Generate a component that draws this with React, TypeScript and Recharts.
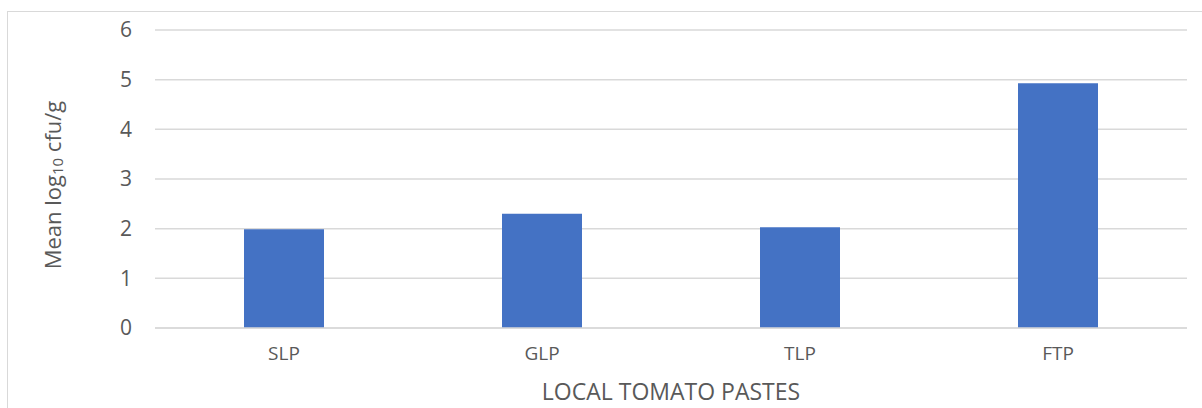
import React from 'react';
import { BarChart, Bar, XAxis, YAxis, CartesianGrid } from 'recharts';

const categories = ['SLP', 'GLP', 'TLP', 'FTP'];
const meanLog = [1.99, 2.3, 2.03, 4.93];
const yTicks = [0, 1, 2, 3, 4, 5, 6];

const data = categories.map((name, i) => ({ name, value: meanLog[i] }));

const FONT = '"Open Sans", sans-serif';
const TEXT = '#595959';

const YLabel: React.FC<any> = ({ viewBox }) => {
  const cx = viewBox.x - 23;
  const cy = viewBox.y + viewBox.height / 2 + 6;
  return (
    <text
      x={cx}
      y={cy}
      transform={`rotate(-90, ${cx}, ${cy})`}
      textAnchor="middle"
      dominantBaseline="central"
      fill={TEXT}
      fontSize={22}
      fontFamily={FONT}
    >
      <tspan>Mean log</tspan>
      <tspan fontSize={15} dy={5}>10</tspan>
      <tspan dy={-5}> cfu/g</tspan>
    </text>
  );
};

const XLabel: React.FC<any> = ({ viewBox }) => {
  const cx = viewBox.x + viewBox.width / 2;
  return (
    <text
      x={cx}
      y={391}
      textAnchor="middle"
      dominantBaseline="central"
      fill={TEXT}
      fontSize={23}
      fontFamily={FONT}
    >
      LOCAL TOMATO PASTES
    </text>
  );
};

export default function App() {
  return (
    <div style={{ position: 'absolute', left: 0, top: 0, width: 1202, height: 408, overflow: 'hidden', background: '#fff' }}>
      <div style={{ position: 'absolute', left: 7, top: 11, width: 1400, height: 600, border: '1px solid #d9d9d9' }} />
      <div style={{ position: 'absolute', left: 0, top: 0 }}>
        <BarChart width={1202} height={408} data={data} margin={{ top: 30, right: 15, bottom: 0, left: 75 }}>
          <CartesianGrid vertical={false} stroke="#d9d9d9" strokeWidth={1.5} />
          <XAxis
            dataKey="name"
            height={80}
            tickSize={0}
            tickMargin={19}
            axisLine={{ stroke: '#d9d9d9', strokeWidth: 1.5 }}
            tick={{ fill: TEXT, fontSize: 19, fontFamily: FONT }}
            label={<XLabel />}
          />
          <YAxis
            width={80}
            domain={[0, 6]}
            ticks={yTicks}
            tickSize={0}
            tickMargin={23}
            axisLine={false}
            tick={{ fill: TEXT, fontSize: 21, fontFamily: FONT }}
            label={<YLabel />}
          />
          <Bar dataKey="value" fill="#4472C4" barSize={80} isAnimationActive={false} />
        </BarChart>
      </div>
    </div>
  );
}
